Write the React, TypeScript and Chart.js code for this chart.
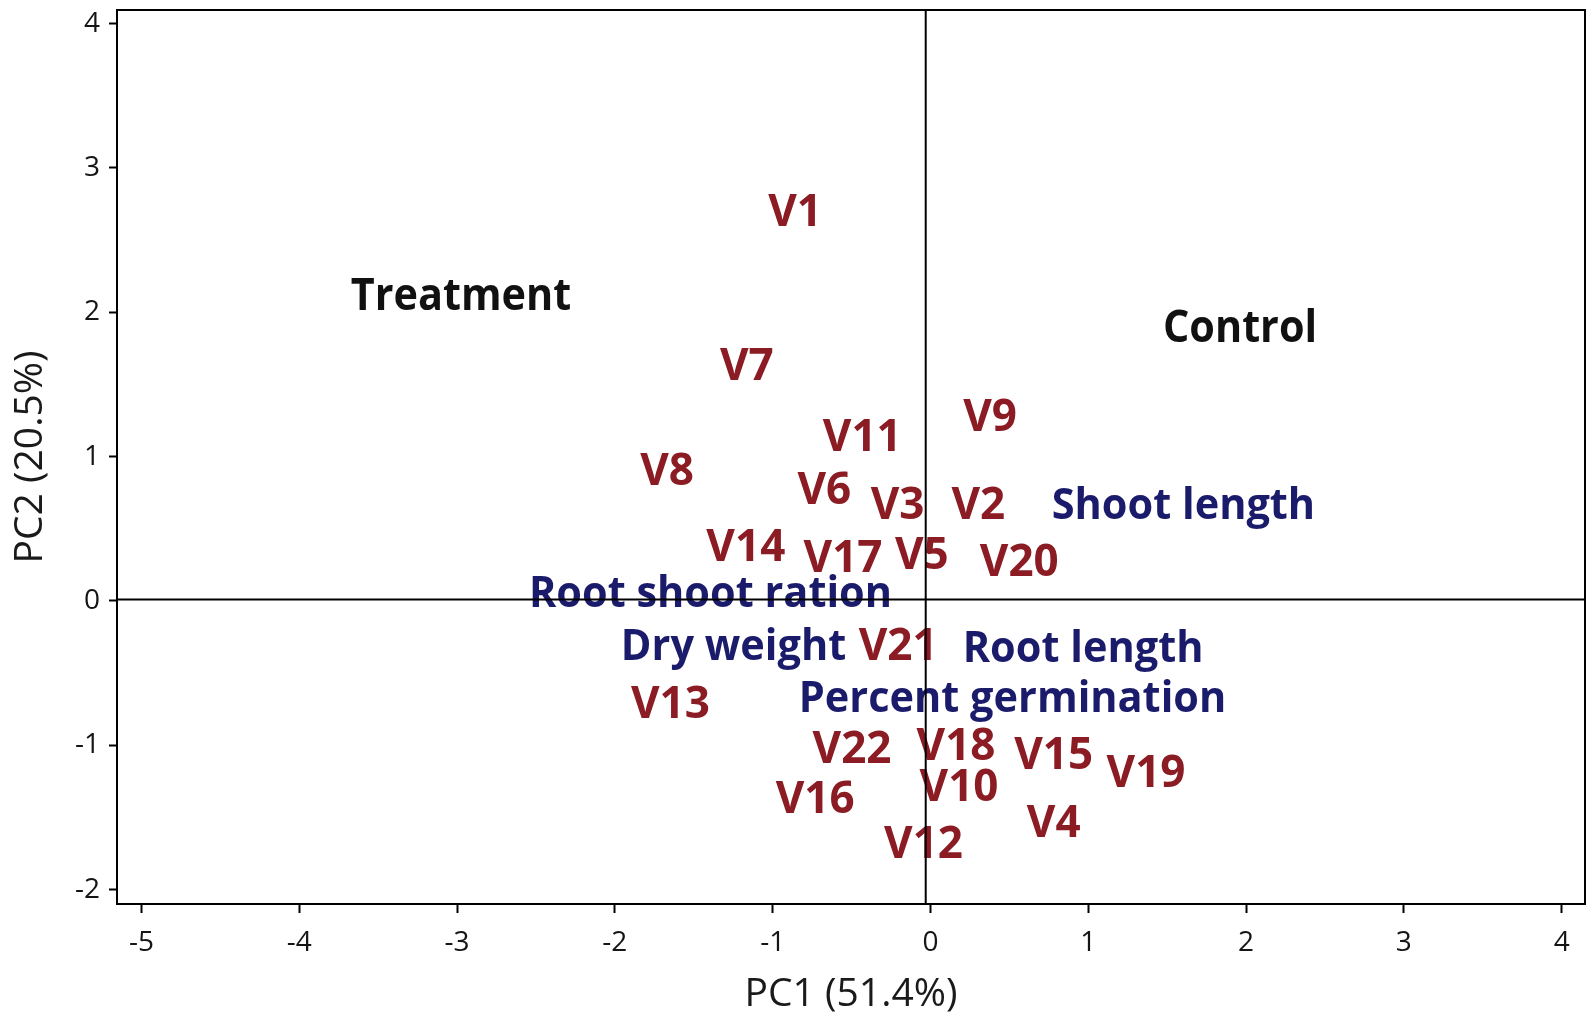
import { useEffect, useRef } from "react";
import { Chart, registerables } from "chart.js";

Chart.register(...registerables);

// Variety scores on the first two principal components
const varietyNames = [
  "V1", "V2", "V3", "V4", "V5", "V6", "V7", "V8", "V9", "V10", "V11",
  "V12", "V13", "V14", "V15", "V16", "V17", "V18", "V19", "V20", "V21", "V22",
];
const varietyPC1 = [
  -0.858, 0.303, -0.208, 0.781, -0.055, -0.673, -1.164, -1.669, 0.378, 0.181, -0.432,
  -0.044, -1.648, -1.17, 0.781, -0.731, -0.554, 0.162, 1.366, 0.563, -0.205, -0.497,
];
const varietyPC2 = [
  2.708, 0.676, 0.676, -1.528, 0.329, 0.78, 1.642, 0.91, 1.288, -1.28, 1.149,
  -1.669, -0.705, 0.387, -1.057, -1.363, 0.306, -0.993, -1.178, 0.283, -0.298, -1.017,
];

// Trait loadings
const traitNames = ["Shoot length", "Root shoot ration", "Dry weight", "Root length", "Percent germination"];
const traitPC1 = [1.603, -1.394, -1.248, 0.967, 0.52];
const traitPC2 = [0.677, 0.062, -0.305, -0.319, -0.665];

// Group labels
const groupNames = ["Treatment", "Control"];
const groupPC1 = [-2.975, 1.962];
const groupPC2 = [2.121, 1.906];

// Axes
const xTickValues = [-5, -4, -3, -2, -1, 0, 1, 2, 3, 4];
const yTickValues = [-2, -1, 0, 1, 2, 3, 4];
const xRange = [-5.155, 4.148];
const yRange = [-2.1, 4.094];

// Quadrant divider positions
const dividerPC1 = -0.03;
const dividerPC2 = 0.01;

const FONT = '"Open Sans", "DejaVu Sans", sans-serif';

const toPoints = (xs: number[], ys: number[]) => xs.map((x, i) => ({ x, y: ys[i] }));

// Draws each point of a labelled dataset as its text, centred on the point
const pointTextPlugin = {
  id: "pointText",
  beforeDatasetsDraw(chart: any) {
    const ctx = chart.ctx;
    chart.data.datasets.forEach((ds: any, di: number) => {
      if (!ds.pointTexts) return;
      const meta = chart.getDatasetMeta(di);
      meta.data.forEach((el: any, i: number) => {
        ctx.save();
        ctx.font = `bold ${ds.textSize}px ${FONT}`;
        ctx.fillStyle = ds.textColor;
        ctx.textAlign = "center";
        ctx.textBaseline = "alphabetic";
        ctx.translate(el.x, el.y + (ds.textSize * 0.714) / 2);
        ctx.scale(ds.textScaleX, 1);
        ctx.fillText(ds.pointTexts[i], 0, 0);
        ctx.restore();
      });
    });
  },
  afterDatasetsDraw(chart: any) {
    const { ctx, chartArea } = chart;
    ctx.save();
    ctx.strokeStyle = "#000";
    ctx.lineWidth = 2;
    ctx.strokeRect(chartArea.left, chartArea.top, chartArea.right - chartArea.left, chartArea.bottom - chartArea.top);
    ctx.restore();
  },
};

export default function App() {
  const canvasRef = useRef<HTMLCanvasElement | null>(null);

  useEffect(() => {
    if (!canvasRef.current) return;
    const chart = new Chart(canvasRef.current, {
      type: "scatter",
      data: {
        datasets: [
          {
            label: "Varieties",
            data: toPoints(varietyPC1, varietyPC2),
            pointRadius: 0,
            pointHoverRadius: 0,
            pointTexts: varietyNames,
            textColor: "#8c1c24",
            textSize: 44,
            textScaleX: 1,
          } as any,
          {
            label: "Traits",
            data: toPoints(traitPC1, traitPC2),
            pointRadius: 0,
            pointHoverRadius: 0,
            pointTexts: traitNames,
            textColor: "#1b1b6b",
            textSize: 43,
            textScaleX: 0.965,
          } as any,
          {
            label: "Groups",
            data: toPoints(groupPC1, groupPC2),
            pointRadius: 0,
            pointHoverRadius: 0,
            pointTexts: groupNames,
            textColor: "#111111",
            textSize: 44,
            textScaleX: 0.94,
          } as any,
          {
            label: "Horizontal divider",
            data: [{ x: xRange[0], y: dividerPC2 }, { x: xRange[1], y: dividerPC2 }],
            showLine: true,
            borderColor: "#000",
            borderWidth: 2,
            pointRadius: 0,
          },
          {
            label: "Vertical divider",
            data: [{ x: dividerPC1, y: yRange[0] }, { x: dividerPC1, y: yRange[1] }],
            showLine: true,
            borderColor: "#000",
            borderWidth: 2,
            pointRadius: 0,
          },
        ],
      },
      options: {
        responsive: false,
        animation: false,
        devicePixelRatio: 1,
        layout: { padding: { top: 10, right: 9, left: 0, bottom: 0 } },
        plugins: {
          legend: { display: false },
          tooltip: { enabled: false },
        },
        scales: {
          x: {
            type: "linear",
            min: xRange[0],
            max: xRange[1],
            afterBuildTicks: (s: any) => {
              s.ticks = xTickValues.map((value) => ({ value }));
            },
            afterFit: (s: any) => {
              s.height = 118;
              s.paddingLeft = 0;
              s.paddingRight = 0;
            },
            grid: { display: true, drawOnChartArea: false, drawTicks: true, tickLength: 9, tickWidth: 2, tickColor: "#000" },
            border: { display: true, color: "#000", width: 2 },
            ticks: { font: { family: FONT, size: 28 }, color: "#151515", padding: 13, callback: (v: any) => String(v) },
            title: { display: true, text: "PC1 (51.4%)", font: { family: FONT, size: 39 }, color: "#1a1a1a", padding: { top: 0, bottom: 4 } },
          },
          y: {
            type: "linear",
            min: yRange[0],
            max: yRange[1],
            afterBuildTicks: (s: any) => {
              s.ticks = yTickValues.map((value) => ({ value }));
            },
            afterFit: (s: any) => {
              s.width = 117;
              s.paddingTop = 0;
              s.paddingBottom = 0;
            },
            grid: { display: true, drawOnChartArea: false, drawTicks: true, tickLength: 8, tickWidth: 2, tickColor: "#000" },
            border: { display: true, color: "#000", width: 2 },
            ticks: { font: { family: FONT, size: 28 }, color: "#151515", padding: 9, callback: (v: any) => String(v) },
            title: { display: true, text: "PC2 (20.5%)", font: { family: FONT, size: 39 }, color: "#1a1a1a", padding: { top: 7, bottom: 0 } },
          },
        },
      },
      plugins: [pointTextPlugin],
    } as any);
    return () => chart.destroy();
  }, []);

  return (
    <div style={{ position: "fixed", left: 0, top: 0, width: 1594, height: 1022, background: "#fff" }}>
      <canvas ref={canvasRef} width={1594} height={1022} style={{ display: "block" }} />
    </div>
  );
}
